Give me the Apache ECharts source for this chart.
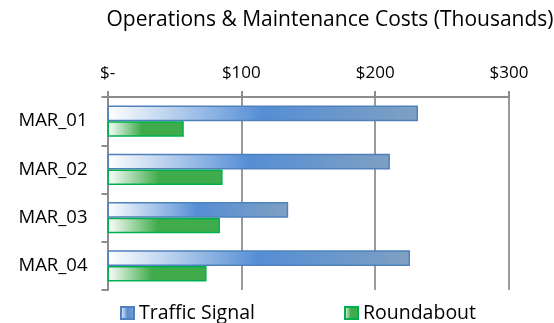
<!DOCTYPE html>
<html>
<head>
<meta charset="utf-8">
<script src="https://cdn.jsdelivr.net/npm/echarts@6/dist/echarts.min.js"></script>
<style>
  html, body { margin: 0; padding: 0; background: #ffffff; }
  #chart { width: 554px; height: 323px; }
</style>
</head>
<body>
<div id="chart"></div>
<script>
// Operations & maintenance cost per site, in thousands of dollars
const categories = ['MAR_01', 'MAR_02', 'MAR_03', 'MAR_04'];
const trafficSignal = [232, 211, 135, 226];
const roundabout = [57, 86, 84, 74];
const costTicks = [0, 100, 200, 300];

const FONT = '"Open Sans", "Noto Sans", sans-serif';

const blueFill = new echarts.graphic.LinearGradient(0, 0, 1, 0, [
  { offset: 0, color: '#ffffff' },
  { offset: 0.5, color: '#558ed5' },
  { offset: 1, color: '#7fa0c2' }
]);
const greenFill = new echarts.graphic.LinearGradient(0, 0, 1, 0, [
  { offset: 0, color: '#ffffff' },
  { offset: 0.45, color: '#3fab4a' },
  { offset: 1, color: '#3fab4a' }
]);

const legendText = { fontFamily: FONT, fontSize: 19.5, color: '#000' };

const chart = echarts.init(document.getElementById('chart'), null, { renderer: 'canvas' });

chart.setOption({
  animation: false,
  title: {
    text: 'Operations & Maintenance Costs (Thousands)',
    left: 325,
    textAlign: 'center',
    top: 5,
    textStyle: { fontFamily: FONT, fontSize: 21, fontWeight: 'normal', color: '#000' }
  },
  legend: [
    {
      data: ['Traffic Signal'],
      icon: 'rect',
      left: 115, top: 298,
      itemWidth: 13, itemHeight: 12, itemGap: 0,
      textStyle: legendText
    },
    {
      data: ['Roundabout'],
      icon: 'rect',
      left: 339, top: 298,
      itemWidth: 13, itemHeight: 12, itemGap: 0,
      textStyle: legendText
    }
  ],
  grid: { left: 107.5, right: 45, top: 97, bottom: 33, containLabel: false },
  xAxis: {
    type: 'value',
    position: 'top',
    min: costTicks[0],
    max: costTicks[costTicks.length - 1],
    interval: 100,
    axisLine: { show: true, lineStyle: { color: '#8c8c8c', width: 2 } },
    axisTick: { show: true, length: 6, lineStyle: { color: '#8c8c8c', width: 2 } },
    axisLabel: {
      fontFamily: FONT, fontSize: 17, color: '#000', margin: 15,
      formatter: v => (v === 0 ? '$-' : '$' + v)
    },
    splitLine: { show: true, lineStyle: { color: '#9a9a9a', width: 2 } }
  },
  yAxis: {
    type: 'category',
    data: categories,
    inverse: true,
    axisLine: { show: true, lineStyle: { color: '#8c8c8c', width: 2 } },
    axisTick: { show: true, length: 6, lineStyle: { color: '#8c8c8c', width: 2 } },
    axisLabel: { fontFamily: FONT, fontSize: 18.5, color: '#000', margin: 20 }
  },
  series: [
    {
      name: 'Traffic Signal',
      type: 'bar',
      data: trafficSignal,
      barGap: '0%',
      barCategoryGap: '35%',
      itemStyle: { color: blueFill, borderColor: '#4f81bd', borderWidth: 1.5 }
    },
    {
      name: 'Roundabout',
      type: 'bar',
      data: roundabout,
      itemStyle: { color: greenFill, borderColor: '#00b050', borderWidth: 1.5 }
    }
  ]
});
</script>
</body>
</html>
